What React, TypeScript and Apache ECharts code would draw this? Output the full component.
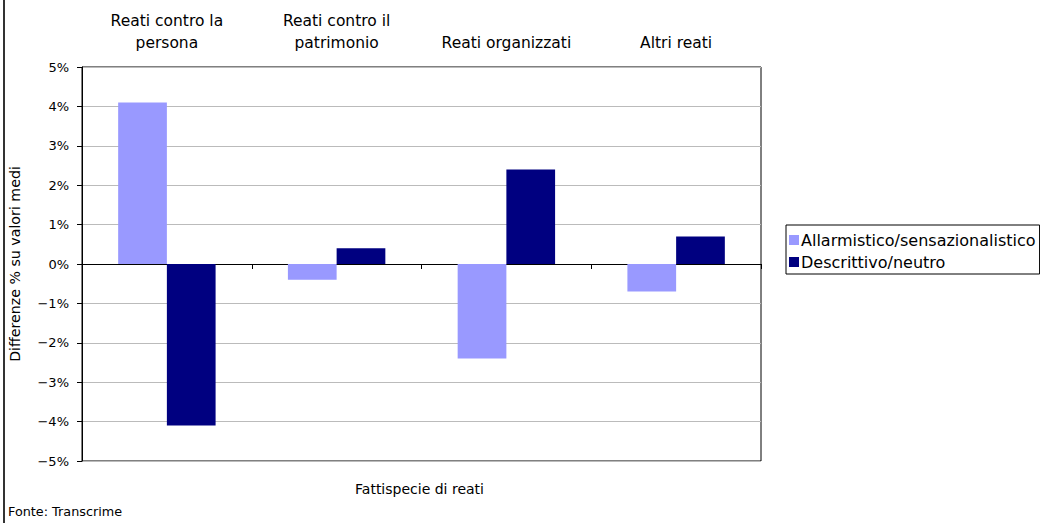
import React, { useEffect, useRef } from "react";
import * as echarts from "echarts";

const categories = ["Reati contro la\npersona", "Reati contro il\npatrimonio", "Reati organizzati", "Altri reati"];
const seriesNames = ["Allarmistico/sensazionalistico", "Descrittivo/neutro"];
const allarmistico = [4.1, -0.4, -2.4, -0.7];
const descrittivo = [-4.1, 0.4, 2.4, 0.7];
const colors = ["#9999FF", "#000080"];
const FONT = "DejaVu Sans";

const fmt = (v: number) => (v < 0 ? "\u2212" + Math.abs(v) : String(v)) + "%";

export default function App() {
  const ref = useRef<HTMLDivElement>(null);
  useEffect(() => {
    if (!ref.current) return;
    const chart = echarts.init(ref.current, null, { renderer: "svg" });
    chart.setOption({
      animation: false,
      textStyle: { fontFamily: FONT, color: "#000" },
      grid: {
        left: 78, top: 67, width: 683, height: 394,
        show: true, borderColor: "#000", borderWidth: 1, backgroundColor: "transparent",
      },
      legend: {
        orient: "vertical", left: 786, top: 225,
        borderColor: "#000", borderWidth: 1, padding: [7, 4, 4, 3],
        itemGap: 6, itemWidth: 10, itemHeight: 10, icon: "rect",
        textStyle: { fontFamily: FONT, fontSize: 16, color: "#000", padding: [0, 0, 0, -3] },
        data: seriesNames,
      },
      xAxis: [
        {
          type: "category", data: categories,
          axisLine: { onZero: true, lineStyle: { color: "#000", width: 1 } },
          axisTick: { show: true, alignWithLabel: false, length: 5, lineStyle: { color: "#000" } },
          axisLabel: { show: false },
          splitLine: { show: false },
        },
        {
          type: "category", data: categories, position: "top",
          axisLine: { show: false }, axisTick: { show: false },
          axisLabel: { show: true, fontFamily: FONT, fontSize: 15.5, color: "#000", lineHeight: 22, margin: 13 },
        },
      ],
      yAxis: {
        type: "value", min: -5, max: 5, interval: 1,
        name: "Differenze % su valori medi", nameLocation: "middle", nameGap: 60, nameRotate: 90,
        nameTextStyle: { fontFamily: FONT, fontSize: 14.2, color: "#000" },
        axisLine: { show: true, lineStyle: { color: "#000" } },
        axisTick: { show: true, length: 5, lineStyle: { color: "#000" } },
        axisLabel: { formatter: fmt, fontFamily: FONT, fontSize: 13, color: "#000", margin: 13 },
        splitLine: { show: true, lineStyle: { color: "#BBBBBB", width: 1 } },
      },
      series: [
        { name: seriesNames[0], type: "bar", data: allarmistico, itemStyle: { color: colors[0] }, barGap: "0%", barCategoryGap: "42.6%" },
        { name: seriesNames[1], type: "bar", data: descrittivo, itemStyle: { color: colors[1] }, barGap: "0%", barCategoryGap: "42.6%" },
      ],
      graphic: [
        { type: "line", shape: { x1: 4, y1: 0, x2: 4, y2: 523 }, style: { stroke: "#333", lineWidth: 2 } },
        { type: "text", x: 419.5, y: 489, style: { text: "Fattispecie di reati", fontFamily: FONT, fontSize: 14, fill: "#000", align: "center", verticalAlign: "middle" } },
        { type: "text", x: 8, y: 511, style: { text: "Fonte: Transcrime", fontFamily: FONT, fontSize: 12.8, fill: "#000", align: "left", verticalAlign: "middle" } },
      ],
    });
    return () => chart.dispose();
  }, []);
  return <div ref={ref} style={{ position: "fixed", left: 0, top: 0, width: 1040, height: 523, background: "#fff" }} />;
}
